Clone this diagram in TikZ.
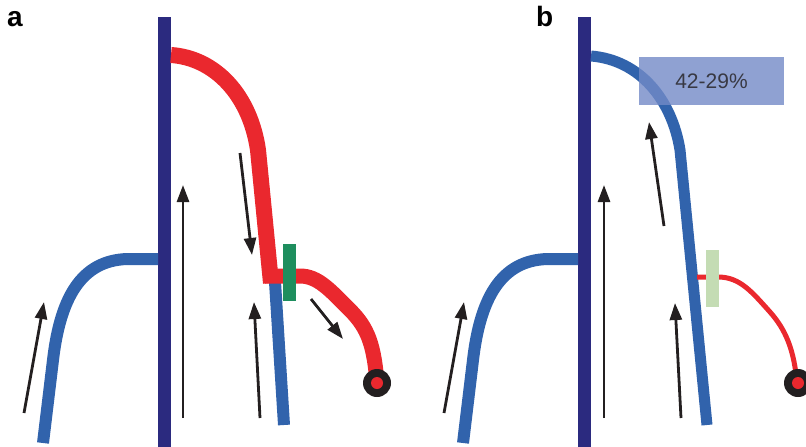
\documentclass[tikz,border=0pt]{standalone}
\usepackage{fontspec}
\setmainfont{Liberation Sans}
\usepackage{xcolor}
\usetikzlibrary{arrows.meta}
\definecolor{membnavy}{RGB}{43,42,127}
\definecolor{strandred}{RGB}{234,40,46}
\definecolor{strandblue}{RGB}{49,99,172}
\definecolor{clampgreen}{RGB}{30,142,94}
\definecolor{clamplight}{RGB}{196,220,180}
\definecolor{boxblue}{RGB}{115,138,199}
\definecolor{inkgray}{RGB}{35,31,32}

\begin{document}
\begin{tikzpicture}[x=1pt,y=-1pt,>={Triangle[length=17pt,width=12pt]},
  panellabel/.style={anchor=base west,inner sep=0,font=\bfseries\fontsize{28}{30}\selectfont},
  flow/.style={->,line width=2.8pt,inkgray},
  bead/.style={fill=inkgray}]
\useasboundingbox (0,0) rectangle (806,447);
% ---------- panel a ----------
\node[panellabel] (la) at (7,27) {a};
\fill[membnavy] (158,17) rectangle (171,447);
% strand on the left side
\draw[strandblue,line width=12pt] (158,259) -- (128,259) .. controls (80,260) and (60,300) .. (53,360) -- (43,443);
\draw[flow] (24,413) -- (44,302);
\draw[flow] (183,418) -- (183,185);
% strands at the clamp
\draw[strandblue,line width=12pt] (275,282) -- (284,425);
\draw[strandred,line width=16pt] (171,55) .. controls (215,58) and (250,95) .. (258,150) -- (271,283);
\draw[strandred,line width=15pt] (265,276) -- (300,276) .. controls (318,276) and (330,290) .. (350,310)
  .. controls (368,328) and (374,345) .. (377,383);
\fill[bead] (377,383) circle (14);
\fill[strandred] (377,383) circle (6);
\fill[clampgreen] (283,244) rectangle (296,301);
\draw[flow] (240,153) -- (252,255);
\draw[flow] (260,418) -- (254,302);
\draw[flow] (311,299) -- (343,339);
% ---------- panel b ----------
\node[panellabel] (lb) at (536,27) {b};
\fill[membnavy] (578,17) rectangle (591,447);
\draw[strandblue,line width=12pt] (578,259) -- (548,259) .. controls (500,260) and (480,300) .. (473,360) -- (463,443);
\draw[flow] (444,413) -- (464,302);
\draw[flow] (604,418) -- (604,185);
\draw[strandblue,line width=11pt] (591,56) .. controls (640,60) and (672,100) .. (680,150) -- (707,425);
\draw[strandred,line width=5pt] (697,277) -- (718,277) .. controls (740,277) and (752,292) .. (770,312)
  .. controls (786,330) and (794,350) .. (797,383);
\fill[bead] (798,383) circle (14);
\fill[strandred] (798,383) circle (6);
\fill[clamplight] (706,250) rectangle (719,307);
\node[fill=boxblue,fill opacity=.8,text=inkgray,minimum width=145pt,minimum height=48pt,inner sep=0,
  font=\fontsize{21}{24}\selectfont] (pct) at (711.5,81) {42-29\%};
\draw[flow] (664,226) -- (649,122);
\draw[flow] (681,418) -- (675,303);
\end{tikzpicture}
\end{document}
